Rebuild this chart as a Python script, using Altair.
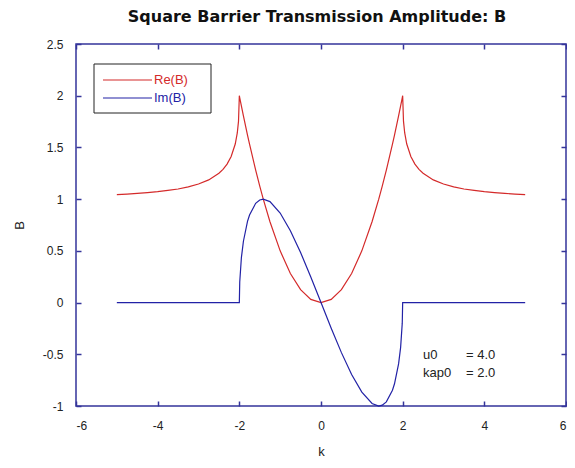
import altair as alt
import pandas as pd

# ---- data ----
k = [-5, -4.75, -4.5, -4.25, -4, -3.75, -3.5, -3.25, -3, -2.75, -2.5, -2.4, -2.3, -2.2, -2.1, -2.05, -2.02, -2,
     -1.99, -1.95, -1.9, -1.8, -1.75, -1.6, -1.5, -1.414, -1.25, -1, -0.75, -0.5, -0.25, 0,
     0.25, 0.5, 0.75, 1, 1.25, 1.414, 1.5, 1.6, 1.75, 1.8, 1.9, 1.95, 1.99,
     2, 2.02, 2.05, 2.1, 2.2, 2.3, 2.4, 2.5, 2.75, 3, 3.25, 3.5, 3.75, 4, 4.25, 4.5, 4.75, 5]

re_b = [1.044, 1.049, 1.055, 1.063, 1.072, 1.084, 1.098, 1.118, 1.146, 1.186, 1.25, 1.288, 1.339, 1.412, 1.533, 1.640, 1.754, 2.0,
        1.980, 1.901, 1.805, 1.62, 1.531, 1.28, 1.125, 1.0, 0.781, 0.5, 0.281, 0.125, 0.031, 0.0,
        0.031, 0.125, 0.281, 0.5, 0.781, 1.0, 1.125, 1.28, 1.531, 1.62, 1.805, 1.901, 1.980,
        2.0, 1.754, 1.640, 1.533, 1.412, 1.339, 1.288, 1.25, 1.186, 1.146, 1.118, 1.098, 1.084, 1.072, 1.063, 1.055, 1.049, 1.044]

im_b = [0, 0, 0, 0, 0, 0, 0, 0, 0, 0, 0, 0, 0, 0, 0, 0, 0, 0,
        0.199, 0.433, 0.593, 0.785, 0.847, 0.96, 0.992, 1.0, 0.976, 0.866, 0.695, 0.484, 0.248, 0.0,
        -0.248, -0.484, -0.695, -0.866, -0.976, -1.0, -0.992, -0.96, -0.847, -0.785, -0.593, -0.433, -0.199,
        0, 0, 0, 0, 0, 0, 0, 0, 0, 0, 0, 0, 0, 0, 0, 0, 0, 0]

series_names = ["Re(B)", "Im(B)"]
series_colors = ["#D42A2A", "#2222A6"]
x_ticks = [-6, -4, -2, 0, 2, 4, 6]
y_ticks = [-1, -0.5, 0, 0.5, 1, 1.5, 2, 2.5]
param_names = ["u0", "kap0"]
param_values = ["= 4.0", "= 2.0"]
title_text = ["Square Barrier Transmission Amplitude: B"]

# ---- styling ----
FRAME = "#34349A"
W, H = 490, 362
LABEL_FONT = "Liberation Sans"

df_re = pd.DataFrame({"k": k, "B": re_b})
df_im = pd.DataFrame({"k": k, "B": im_b})
one = pd.DataFrame({"a": [0]})

xscale = alt.Scale(domain=[-6, 6], nice=False, zero=False)
yscale = alt.Scale(domain=[-1, 2.5], nice=False, zero=False)

common = dict(domain=False, grid=False, ticks=True, tickSize=5, tickWidth=1.5,
              tickColor=FRAME, offset=-5, labelFont=LABEL_FONT, labelFontSize=12,
              labelColor="#222222", titleFont=LABEL_FONT, titleFontSize=13,
              titleColor="#222222", titleFontWeight="normal",
              labelExpr="'' + datum.value")

re_line = alt.Chart(df_re).mark_line(color=series_colors[0], strokeWidth=1.2).encode(
    x=alt.X("k:Q", scale=xscale,
            axis=alt.Axis(values=x_ticks, title="k", orient="bottom",
                          labelPadding=14, titlePadding=14, **common)),
    y=alt.Y("B:Q", scale=yscale,
            axis=alt.Axis(values=y_ticks, title="B", orient="left",
                          labelPadding=13, titlePadding=16, **common)),
)

im_line = alt.Chart(df_im).mark_line(color=series_colors[1], strokeWidth=1.2).encode(
    x=alt.X("k:Q", scale=xscale,
            axis=alt.Axis(values=x_ticks, title=None, labels=False, orient="top", **common)),
    y=alt.Y("B:Q", scale=yscale,
            axis=alt.Axis(values=y_ticks, title=None, labels=False, orient="right", **common)),
)

title_mark = alt.Chart(pd.DataFrame({"t": title_text})).mark_text(
    font="DejaVu Sans", fontSize=16, fontWeight="bold", color="#111111",
    align="center", baseline="alphabetic").encode(
    text="t:N", x=alt.value(W / 2 - 4), y=alt.value(-22))

# legend box (drawn by hand, as in the original)
legend_box = alt.Chart(one).mark_rect(fill="white", stroke="#222222", strokeWidth=1).encode(
    x=alt.value(18), x2=alt.value(135), y=alt.value(20), y2=alt.value(69))

legend_layers = []
for i, (name, col) in enumerate(zip(series_names, series_colors)):
    yy = 36 + 18 * i
    legend_layers.append(
        alt.Chart(one).mark_rule(color=col, strokeWidth=1.2).encode(
            x=alt.value(27), x2=alt.value(76), y=alt.value(yy)))
    legend_layers.append(
        alt.Chart(one).mark_text(text=name, color=col, align="left", baseline="middle",
                                 font=LABEL_FONT, fontSize=13).encode(
            x=alt.value(78), y=alt.value(yy)))

param_layers = []
for i, (nm, val) in enumerate(zip(param_names, param_values)):
    yy = 311 + 18 * i
    param_layers.append(
        alt.Chart(one).mark_text(text=nm, color="#222222", align="left", baseline="middle",
                                 font=LABEL_FONT, fontSize=13).encode(
            x=alt.value(347), y=alt.value(yy)))
    param_layers.append(
        alt.Chart(one).mark_text(text=val, color="#222222", align="left", baseline="middle",
                                 font=LABEL_FONT, fontSize=13).encode(
            x=alt.value(390), y=alt.value(yy)))

chart = alt.layer(re_line, im_line, title_mark, legend_box, *legend_layers, *param_layers).resolve_axis(
    x="independent", y="independent"
).properties(
    width=W, height=H,
    autosize="none",
    padding={"left": 68, "top": 36, "right": 1, "bottom": 54},
).configure_view(
    stroke=FRAME, strokeWidth=1.5
)

chart.save("out.html", embed_options={"renderer": "svg", "actions": False})
